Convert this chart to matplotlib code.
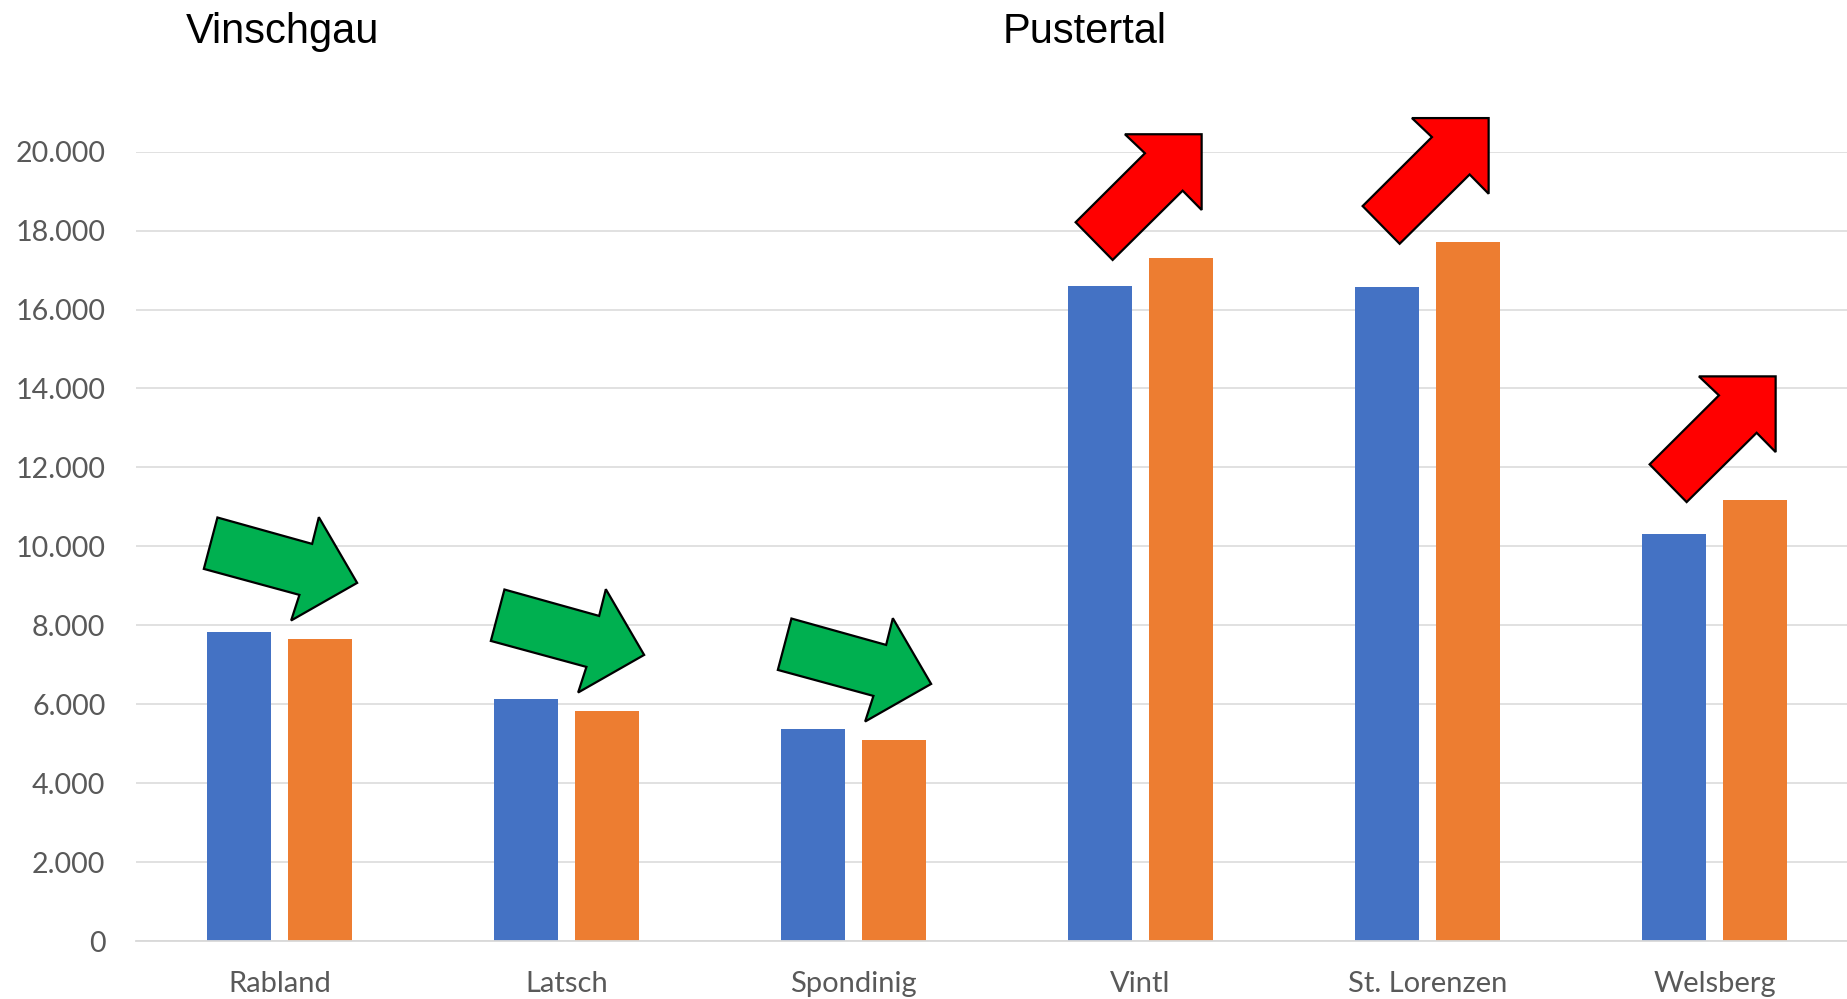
import matplotlib
matplotlib.use("Agg")
import matplotlib.pyplot as plt
import matplotlib.transforms as mtransforms
from matplotlib.patches import Polygon
from matplotlib.ticker import FuncFormatter
import numpy as np

# data
places = ["Rabland", "Latsch", "Spondinig", "Vintl", "St. Lorenzen", "Welsberg"]
before = [7830, 6140, 5365, 16605, 16570, 10325]
after = [7655, 5830, 5095, 17300, 17710, 11165]
regions = ["Vinschgau", "Pustertal"]

BLUE = "#4472C4"
ORANGE = "#ED7D31"
GRID = "#D9D9D9"
TICK = "#595959"

# arrow outlines in pixels, tip at (0, 0), y up
DOWN_ARROW = [(0, 0), (-66, -37.6), (-57.7, -12), (-153.3, 14),
              (-139.7, 65.4), (-45, 39), (-38.3, 65.7)]
UP_ARROW = [(0, 0), (0, -75.7), (-19, -56.4), (-89, -125.7),
            (-126, -88), (-56.7, -19), (-76.7, 0)]

fig = plt.figure(figsize=(18.47, 9.99), dpi=100)
ax = fig.add_axes([136 / 1847, 58 / 999, 1711 / 1847, (941 - 151.7) / 999])

x = np.arange(len(places))
w = 0.223
off = 0.1416
ax.bar(x - off, before, w, color=BLUE, zorder=2)
ax.bar(x + off, after, w, color=ORANGE, zorder=2)

ax.set_xlim(-0.5, -0.5 + 1711 / 287)
ax.set_ylim(0, 20000)
ax.set_yticks(np.arange(0, 20001, 2000))
ax.yaxis.set_major_formatter(FuncFormatter(lambda v, p: f"{int(v):,}".replace(",", ".")))
ax.set_xticks(x)
ax.set_xticklabels(places)

ax.yaxis.grid(True, color=GRID, lw=1.1)
ax.set_axisbelow(True)
for s in ["top", "right", "left"]:
    ax.spines[s].set_visible(False)
ax.spines["bottom"].set_color(GRID)
ax.spines["bottom"].set_linewidth(1.3)
ax.tick_params(length=0, labelcolor=TICK)
ax.tick_params(axis="x", pad=21.5, labelsize=21)
ax.tick_params(axis="y", pad=22, labelsize=20.6)
for lab in ax.get_xticklabels() + ax.get_yticklabels():
    lab.set_fontfamily(["Lato", "DejaVu Sans"])

# trend arrows above each pair of bars
for i in range(len(places)):
    right = x[i] + off + w / 2
    if after[i] < before[i]:
        verts, fc, dx, dy = DOWN_ARROW, "#00B050", 5, 56
    else:
        verts, fc, dx, dy = UP_ARROW, "#FF0000", -11.5, 124
    tr = mtransforms.Affine2D().translate(dx, dy) + \
        mtransforms.ScaledTranslation(right, after[i], ax.transData)
    arrow = Polygon(verts, closed=True, facecolor=fc, edgecolor="black",
                    lw=1.6, transform=tr, clip_on=False, zorder=5)
    ax.add_artist(arrow)

# region headings
fig.text(283 / 1847, 1 - 43 / 999, regions[0], ha="center", va="baseline",
         fontsize=30, family="Liberation Sans")
fig.text(1085 / 1847, 1 - 43 / 999, regions[1], ha="center", va="baseline",
         fontsize=30, family="Liberation Sans")

fig.savefig("out.png", dpi=100)
